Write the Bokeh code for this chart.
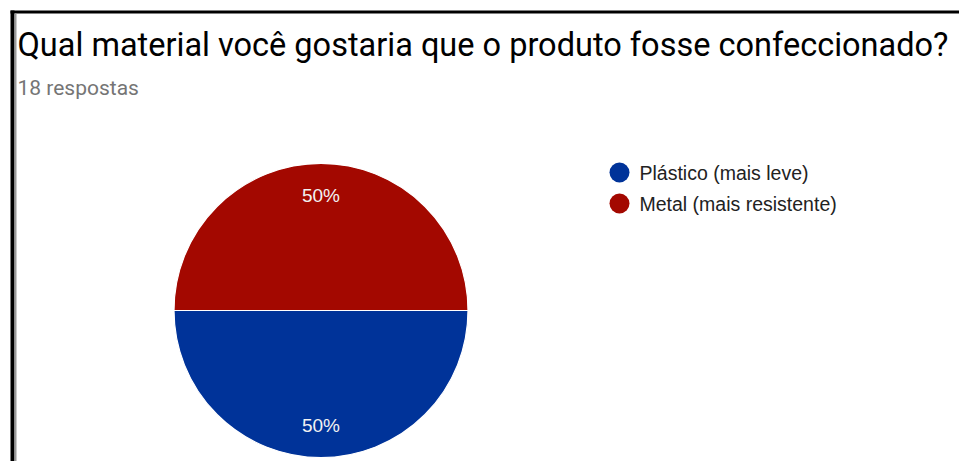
import math
from bokeh.plotting import figure
from bokeh.models import Range1d, Label, BoxAnnotation, ColumnDataSource
from bokeh.core.properties import value
from bokeh.embed import file_html
from bokeh.resources import INLINE

# ---- data ----
title_text = "Qual material você gostaria que o produto fosse confeccionado?"
subtitle_text = "18 respostas"
categories = ["Plástico (mais leve)", "Metal (mais resistente)"]
counts = [9, 9]
colors = ["#003399", "#a30800"]

# ---- layout (picture pixel coords, y measured from the top) ----
W, H = 959, 461

def Y(py):
    return H - py

p = figure(width=W, height=H, output_backend="svg", toolbar_location=None,
           x_range=Range1d(0, W), y_range=Range1d(0, H),
           x_axis_type=None, y_axis_type=None, min_border=0)
p.grid.visible = False
p.outline_line_color = None
p.background_fill_color = "white"
p.border_fill_color = "white"

# frame lines of the screenshot
p.add_layout(BoxAnnotation(left=10, right=970, top=Y(10), bottom=Y(13),
                           fill_color="black", fill_alpha=1, line_color=None))
p.add_layout(BoxAnnotation(left=10, right=14, top=Y(10), bottom=Y(480),
                           fill_color="black", fill_alpha=1, line_color=None))
p.add_layout(BoxAnnotation(left=14, right=16, top=Y(13), bottom=Y(480),
                           fill_color="#9a9a9a", fill_alpha=1, line_color=None))

# pie
total = sum(counts)
cx, cy, r = 320.5, Y(310), 147
starts, ends, mids = [], [], []
a = 0.0
for c in counts:
    sweep = 2 * math.pi * c / total
    starts.append(a)
    ends.append(a - sweep)
    mids.append(a - sweep / 2)
    a -= sweep

src = ColumnDataSource(dict(start=starts, end=ends, color=colors))
p.wedge(x=cx, y=cy, radius=r, start_angle="start", end_angle="end",
        direction="clock", fill_color="color", line_color="white",
        line_width=1.2, source=src)

lab_r = 0.785 * r
pct = [f"{round(100 * c / total)}%" for c in counts]
lsrc = ColumnDataSource(dict(x=[cx + lab_r * math.cos(m) for m in mids],
                             y=[cy + lab_r * math.sin(m) for m in mids],
                             t=pct))
p.text(x="x", y="y", text="t", source=lsrc, text_color="#f2f2f2",
       text_font=value("Liberation Sans"), text_font_size="19px",
       text_align="center", text_baseline="middle")

# legend
leg_x, leg_y0, leg_dy = 619, Y(172), 31
ly = [leg_y0 - i * leg_dy for i in range(len(categories))]
p.scatter(x=[leg_x] * len(categories), y=ly, size=20, marker="circle",
          fill_color=colors, line_color=None)
p.text(x=[leg_x + 20] * len(categories), y=ly, text=categories,
       text_color="#222222", text_font=value("Liberation Sans"),
       text_font_size="19.5px", text_align="left", text_baseline="middle")

# titles
p.add_layout(Label(x=17, y=Y(44), text=title_text, text_font="Roboto",
                   text_font_size="32.5px", text_color="#000000",
                   text_baseline="alphabetic"))
p.add_layout(Label(x=17, y=Y(87), text=subtitle_text, text_font="Roboto",
                   text_font_size="21px", text_color="#757575",
                   text_baseline="alphabetic"))

open("out.html", "w").write(file_html(p, INLINE))
